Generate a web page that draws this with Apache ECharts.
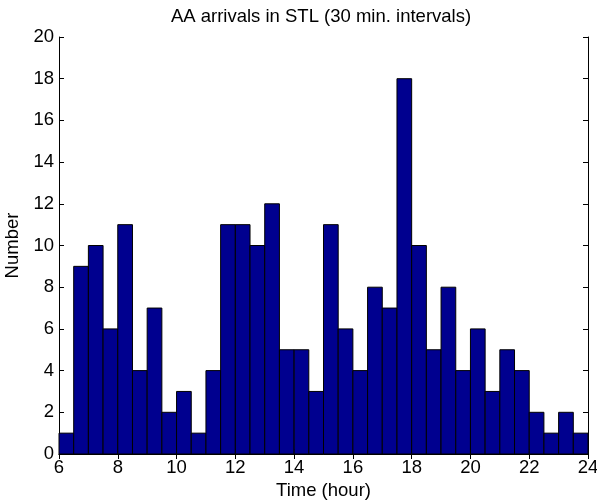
<!DOCTYPE html>
<html>
<head>
<meta charset="utf-8">
<script src="https://cdn.jsdelivr.net/npm/echarts@6/dist/echarts.min.js"></script>
<style>
  html, body { margin: 0; padding: 0; background: #fff; }
  #chart { width: 597px; height: 502px; }
</style>
</head>
<body>
<div id="chart"></div>
<script>
// half-hour bins from 6:00 to 24:00
const binStart = 6;
const binWidth = 0.5;
const counts = [1, 9, 10, 6, 11, 4, 7, 2, 3, 1, 4, 11, 11, 10, 12, 5, 5, 3,
                11, 6, 4, 8, 7, 18, 10, 5, 8, 4, 6, 3, 5, 4, 2, 1, 2, 1];
const xTicks = [6, 8, 10, 12, 14, 16, 18, 20, 22, 24];
const yTicks = [0, 2, 4, 6, 8, 10, 12, 14, 16, 18, 20];

const bins = counts.map((c, i) => [binStart + i * binWidth, binStart + (i + 1) * binWidth, c]);

const font = "Liberation Sans, Arial, sans-serif";
const fs = 18.5;
const chart = echarts.init(document.getElementById("chart"));

const axisCommon = {
    axisLine: { lineStyle: { color: "#000", width: 1 } },
    axisTick: { inside: true, length: 5, lineStyle: { color: "#000" } },
    splitLine: { show: false }
};

const option = {
    animation: false,
    title: {
        text: "AA arrivals in STL (30 min. intervals)",
        left: 321,
        top: 7,
        padding: 0,
        textAlign: "center",
        textStyle: { fontFamily: font, fontSize: fs, fontWeight: "normal", color: "#000" }
    },
    grid: { left: 59, right: 9, top: 37, bottom: 48, outerBoundsMode: "none", containLabel: false },
    xAxis: [
        Object.assign({}, axisCommon, {
            type: "value", min: xTicks[0], max: xTicks[xTicks.length - 1], interval: 2,
            name: "Time (hour)", nameLocation: "middle", nameGap: 24,
            nameTextStyle: { fontFamily: font, fontSize: fs, color: "#000" },
            axisLabel: { fontFamily: font, fontSize: fs, color: "#000", margin: 4 }
        }),
        Object.assign({}, axisCommon, {
            type: "value", position: "top", min: xTicks[0], max: xTicks[xTicks.length - 1], interval: 2,
            axisLabel: { show: false }
        })
    ],
    yAxis: [
        Object.assign({}, axisCommon, {
            type: "value", min: yTicks[0], max: yTicks[yTicks.length - 1], interval: 2,
            name: "Number", nameLocation: "middle", nameGap: 31,
            nameTextStyle: { fontFamily: font, fontSize: fs, color: "#000" },
            axisLabel: { fontFamily: font, fontSize: fs, color: "#000", margin: 5 }
        }),
        Object.assign({}, axisCommon, {
            type: "value", position: "right", min: yTicks[0], max: yTicks[yTicks.length - 1], interval: 2,
            axisLabel: { show: false }
        })
    ],
    series: [{
        type: "custom",
        xAxisIndex: 0,
        yAxisIndex: 0,
        data: bins,
        encode: { x: [0, 1], y: 2 },
        renderItem: function (params, api) {
            const p0 = api.coord([api.value(0), 0]);
            const p1 = api.coord([api.value(1), api.value(2)]);
            return {
                type: "rect",
                shape: { x: p0[0], y: p1[1], width: p1[0] - p0[0], height: p0[1] - p1[1] },
                style: { fill: "#00008f", stroke: "#000", lineWidth: 1 }
            };
        }
    }]
};
chart.setOption(option);
</script>
</body>
</html>
